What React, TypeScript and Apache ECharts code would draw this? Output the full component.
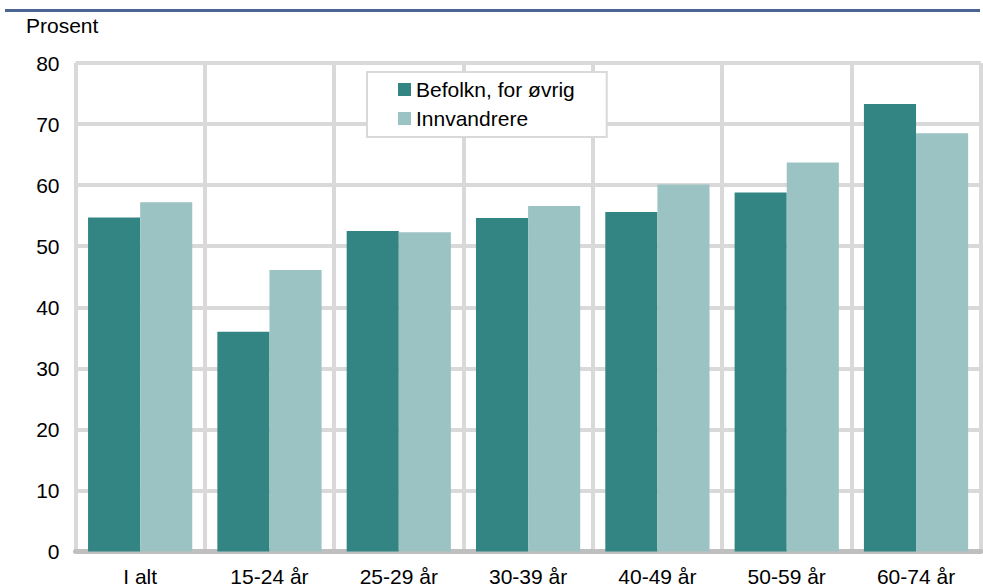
import React, { useEffect, useRef } from "react";
import * as echarts from "echarts";

const categories = ["I alt", "15-24 år", "25-29 år", "30-39 år", "40-49 år", "50-59 år", "60-74 år"];
const seriesNames = ["Befolkn, for øvrig", "Innvandrere"];
const befolkning = [54.7, 36.0, 52.5, 54.6, 55.6, 58.8, 73.3];
const innvandrere = [57.2, 46.1, 52.3, 56.6, 60.1, 63.7, 68.5];
const yTicks = [0, 10, 20, 30, 40, 50, 60, 70, 80];

const FONT = "'Liberation Sans', Arial, sans-serif";

export default function App() {
  const ref = useRef<HTMLDivElement>(null);
  useEffect(() => {
    if (!ref.current) return;
    const chart = echarts.init(ref.current, null, { renderer: "svg" });
    chart.setOption({
      animation: false,
      backgroundColor: "#ffffff",
      textStyle: { fontFamily: FONT },
      grid: { left: 75.5, right: 2.3, top: 63, bottom: 36.5, containLabel: false },
      graphic: [
        { type: "rect", left: 5, top: 9, shape: { width: 975, height: 3 }, style: { fill: "#4a6591" }, silent: true },
        {
          type: "text",
          left: 26,
          top: 15,
          style: { text: "Prosent", fontSize: 21, fontFamily: FONT, fill: "#000" },
        },
      ],
      legend: {
        orient: "vertical",
        left: 367,
        top: 72,
        data: seriesNames,
        backgroundColor: "#ffffff",
        borderColor: "#d9d9d9",
        borderWidth: 2,
        padding: [7, 32, 8, 31],
        itemWidth: 13,
        itemHeight: 13,
        itemGap: 8,
        icon: "rect",
        textStyle: { fontSize: 21, lineHeight: 21, color: "#000", fontFamily: FONT },
        z: 10,
      },
      xAxis: {
        type: "category",
        data: categories,
        boundaryGap: true,
        axisLine: { show: true, lineStyle: { color: "#bfbfbf", width: 5 } },
        axisTick: { show: false },
        axisLabel: { fontSize: 21, color: "#000", margin: 14, fontFamily: FONT },
        splitLine: { show: true, lineStyle: { color: "#d9d9d9", width: 4 } },
        z: 3,
      },
      yAxis: {
        type: "value",
        min: yTicks[0],
        max: yTicks[yTicks.length - 1],
        interval: 10,
        axisLine: { show: false },
        axisTick: { show: false },
        axisLabel: { fontSize: 21, color: "#000", margin: 16, fontFamily: FONT },
        splitLine: { show: true, lineStyle: { color: "#d9d9d9", width: 4 } },
      },
      series: [
        {
          name: seriesNames[0],
          type: "bar",
          data: befolkning,
          barGap: "0%",
          barCategoryGap: "19.4%",
          itemStyle: { color: "#338583" },
          z: 4,
        },
        {
          name: seriesNames[1],
          type: "bar",
          data: innvandrere,
          barGap: "0%",
          barCategoryGap: "19.4%",
          itemStyle: { color: "#9cc3c3" },
          z: 4,
        },
      ],
    });
    return () => chart.dispose();
  }, []);
  return (
    <div
      ref={ref}
      style={{ position: "fixed", left: 0, top: 0, width: 983, height: 588, background: "#fff" }}
    />
  );
}
